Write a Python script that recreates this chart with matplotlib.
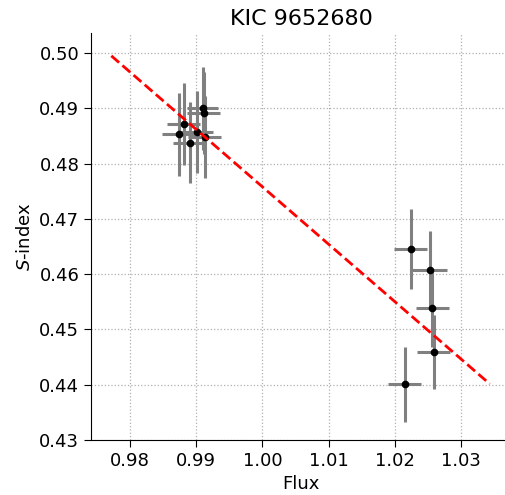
import matplotlib
matplotlib.use("Agg")
import matplotlib.pyplot as plt
import numpy as np

# flux / S-index measurements
flux = [0.99095, 0.99110, 0.98808, 0.98733, 0.99010, 0.99125, 0.98905,
        1.02242, 1.02529, 1.02569, 1.02589, 1.02151]
s_index = [0.4900, 0.4892, 0.4872, 0.4853, 0.4857, 0.4848, 0.4838,
           0.4646, 0.4608, 0.4538, 0.4459, 0.4401]
flux_err = [0.0023, 0.0025, 0.0025, 0.0025, 0.0025, 0.0025, 0.0025,
            0.0025, 0.0026, 0.0025, 0.0025, 0.0025]
s_err = [0.0075, 0.0074, 0.0074, 0.0075, 0.0074, 0.0074, 0.0073,
         0.0072, 0.0070, 0.0070, 0.0067, 0.0068]

# linear fit endpoints
fit_x = [0.97716, 1.03438]
fit_y = [0.4995, 0.44015]

fig = plt.figure(figsize=(5.06, 4.95), dpi=100)
ax = fig.add_axes([0.180, 0.111, 0.830, 0.822])

ax.errorbar(flux, s_index, xerr=flux_err, yerr=s_err, fmt="o", color="black",
            ecolor="gray", elinewidth=2.2, markersize=4.5, capsize=0, zorder=3)
ax.plot(fit_x, fit_y, "--", color="red", linewidth=2, zorder=4)

ax.set_xlim(0.9741, 1.0376)
ax.set_ylim(0.43, 0.5036)
ax.set_xticks([0.98, 0.99, 1.00, 1.01, 1.02, 1.03])
ax.set_yticks([0.43, 0.44, 0.45, 0.46, 0.47, 0.48, 0.49, 0.50])
ax.set_xticklabels(["0.98", "0.99", "1.00", "1.01", "1.02", "1.03"])
ax.set_yticklabels(["0.43", "0.44", "0.45", "0.46", "0.47", "0.48", "0.49", "0.50"])
ax.tick_params(labelsize=13, length=5)

ax.grid(True, linestyle=":", color="#b0b0b0", linewidth=0.9)
ax.spines["top"].set_visible(False)
ax.spines["right"].set_visible(False)

ax.set_xlabel("Flux", fontsize=13)
ax.set_ylabel("$S$-index", fontsize=13)
ax.set_title("KIC 9652680", fontsize=16)

fig.savefig("out.png", dpi=100)
